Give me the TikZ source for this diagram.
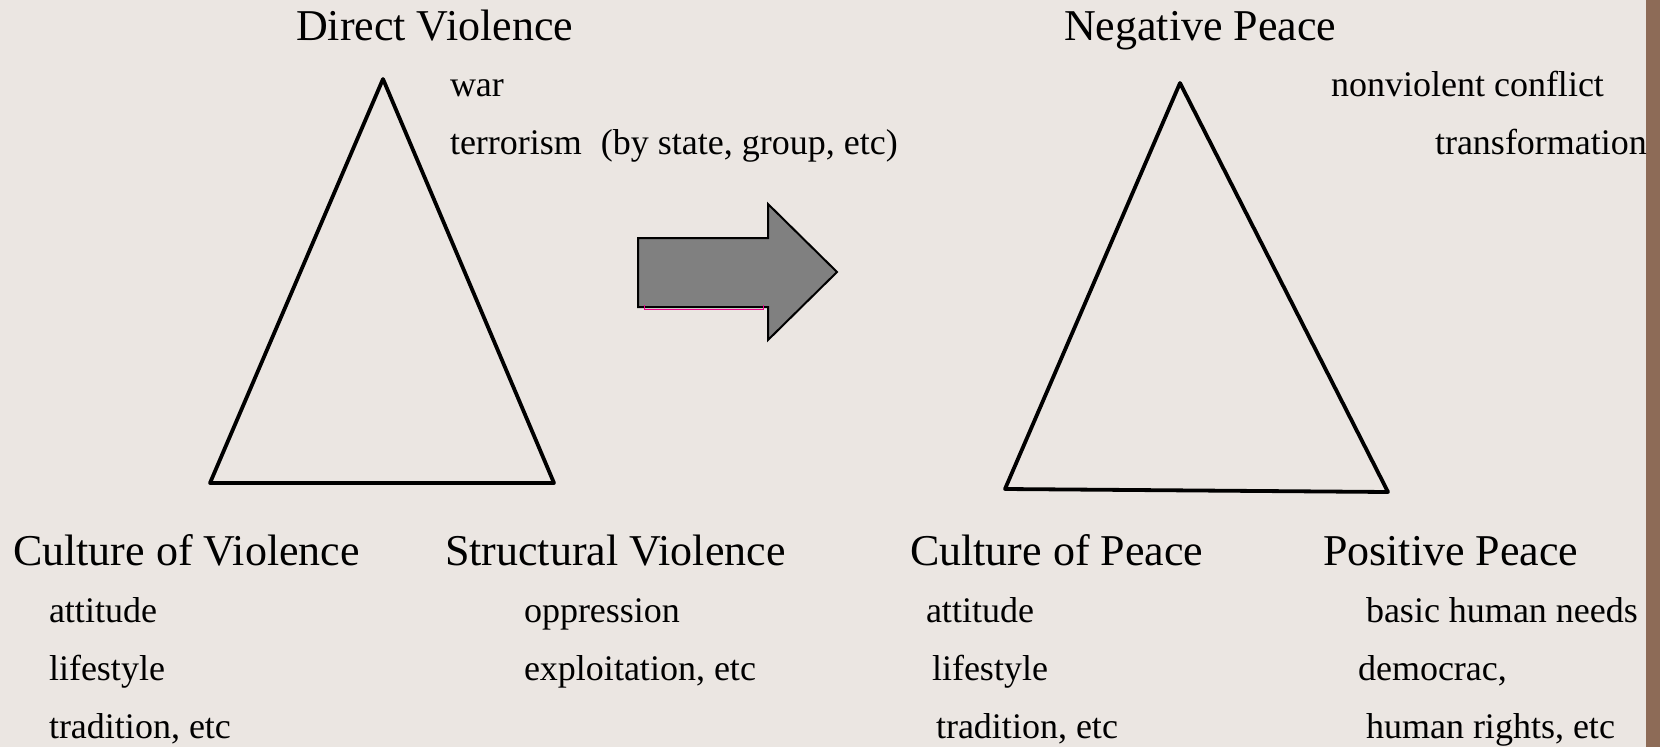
\documentclass[tikz,border=0pt]{standalone}
\usepackage{fontspec}
\setmainfont{Liberation Serif}
\definecolor{bg}{HTML}{EBE6E2}
\definecolor{strip}{HTML}{8D6B57}
\definecolor{arrowgray}{HTML}{808080}
\tikzset{
  title/.style={anchor=base west, inner sep=0pt, outer sep=0pt, font=\fontsize{44}{44}\selectfont},
  item/.style={anchor=base west, inner sep=0pt, outer sep=0pt, font=\fontsize{36}{36}\selectfont},
  tri/.style={line width=3.8pt, line join=round, line cap=round},
  bigarrow/.style={fill=arrowgray, draw=black, line width=2pt, line join=miter}
}
\begin{document}
\begin{tikzpicture}[x=1pt,y=-1pt]
\useasboundingbox (0,0) rectangle (1660,747);
\fill[bg] (0,0) rectangle (1660,747);
\fill[strip] (1646,0) rectangle (1660,747);

% left triangle
\coordinate (LA) at (383,79);
\coordinate (LB) at (210,483);
\coordinate (LC) at (554,483);
\draw[tri] (LA) -- (LB) -- (LC) -- cycle;

% right triangle
\coordinate (RA) at (1180,83);
\coordinate (RB) at (1005,489);
\coordinate (RC) at (1388,492);
\draw[tri] (RA) -- (RB) -- (RC) -- cycle;

% block arrow
\draw[bigarrow] (638,238) -- (768,238) -- (768,204) -- (837,272) -- (768,340) -- (768,307) -- (638,307) -- cycle;
\draw[magenta, line width=1pt] (644,305) -- (644,309) -- (763,309) -- (763,305);

% top labels
\node[title] (dv) at (296,40) {Direct Violence};
\node[item] (war) at (450,96) {war};
\node[item] (terr) at (450,154) {terrorism\hspace{19pt}(by state, group, etc)};

\node[title] (np) at (1064,40) {Negative Peace};
\node[item] (nvc) at (1331,96) {nonviolent conflict};
\node[item] (trf) at (1435,154) {transformation};

% bottom labels left
\node[title] (cv) at (13,565) {Culture of Violence};
\node[item] (cv1) at (49,622) {attitude};
\node[item] (cv2) at (49,680) {lifestyle};
\node[item] (cv3) at (49,738) {tradition, etc};

\node[title] (sv) at (445,565) {Structural Violence};
\node[item] (sv1) at (524,622) {oppression};
\node[item] (sv2) at (524,680) {exploitation, etc};

% bottom labels right
\node[title] (cp) at (910,565) {Culture of Peace};
\node[item] (cp1) at (926,622) {attitude};
\node[item] (cp2) at (932,680) {lifestyle};
\node[item] (cp3) at (936,738) {tradition, etc};

\node[title] (pp) at (1323,565) {Positive Peace};
\node[item] (pp1) at (1366,622) {basic human needs};
\node[item] (pp2) at (1358,680) {democrac,};
\node[item] (pp3) at (1366,738) {human rights, etc};
\end{tikzpicture}
\end{document}
